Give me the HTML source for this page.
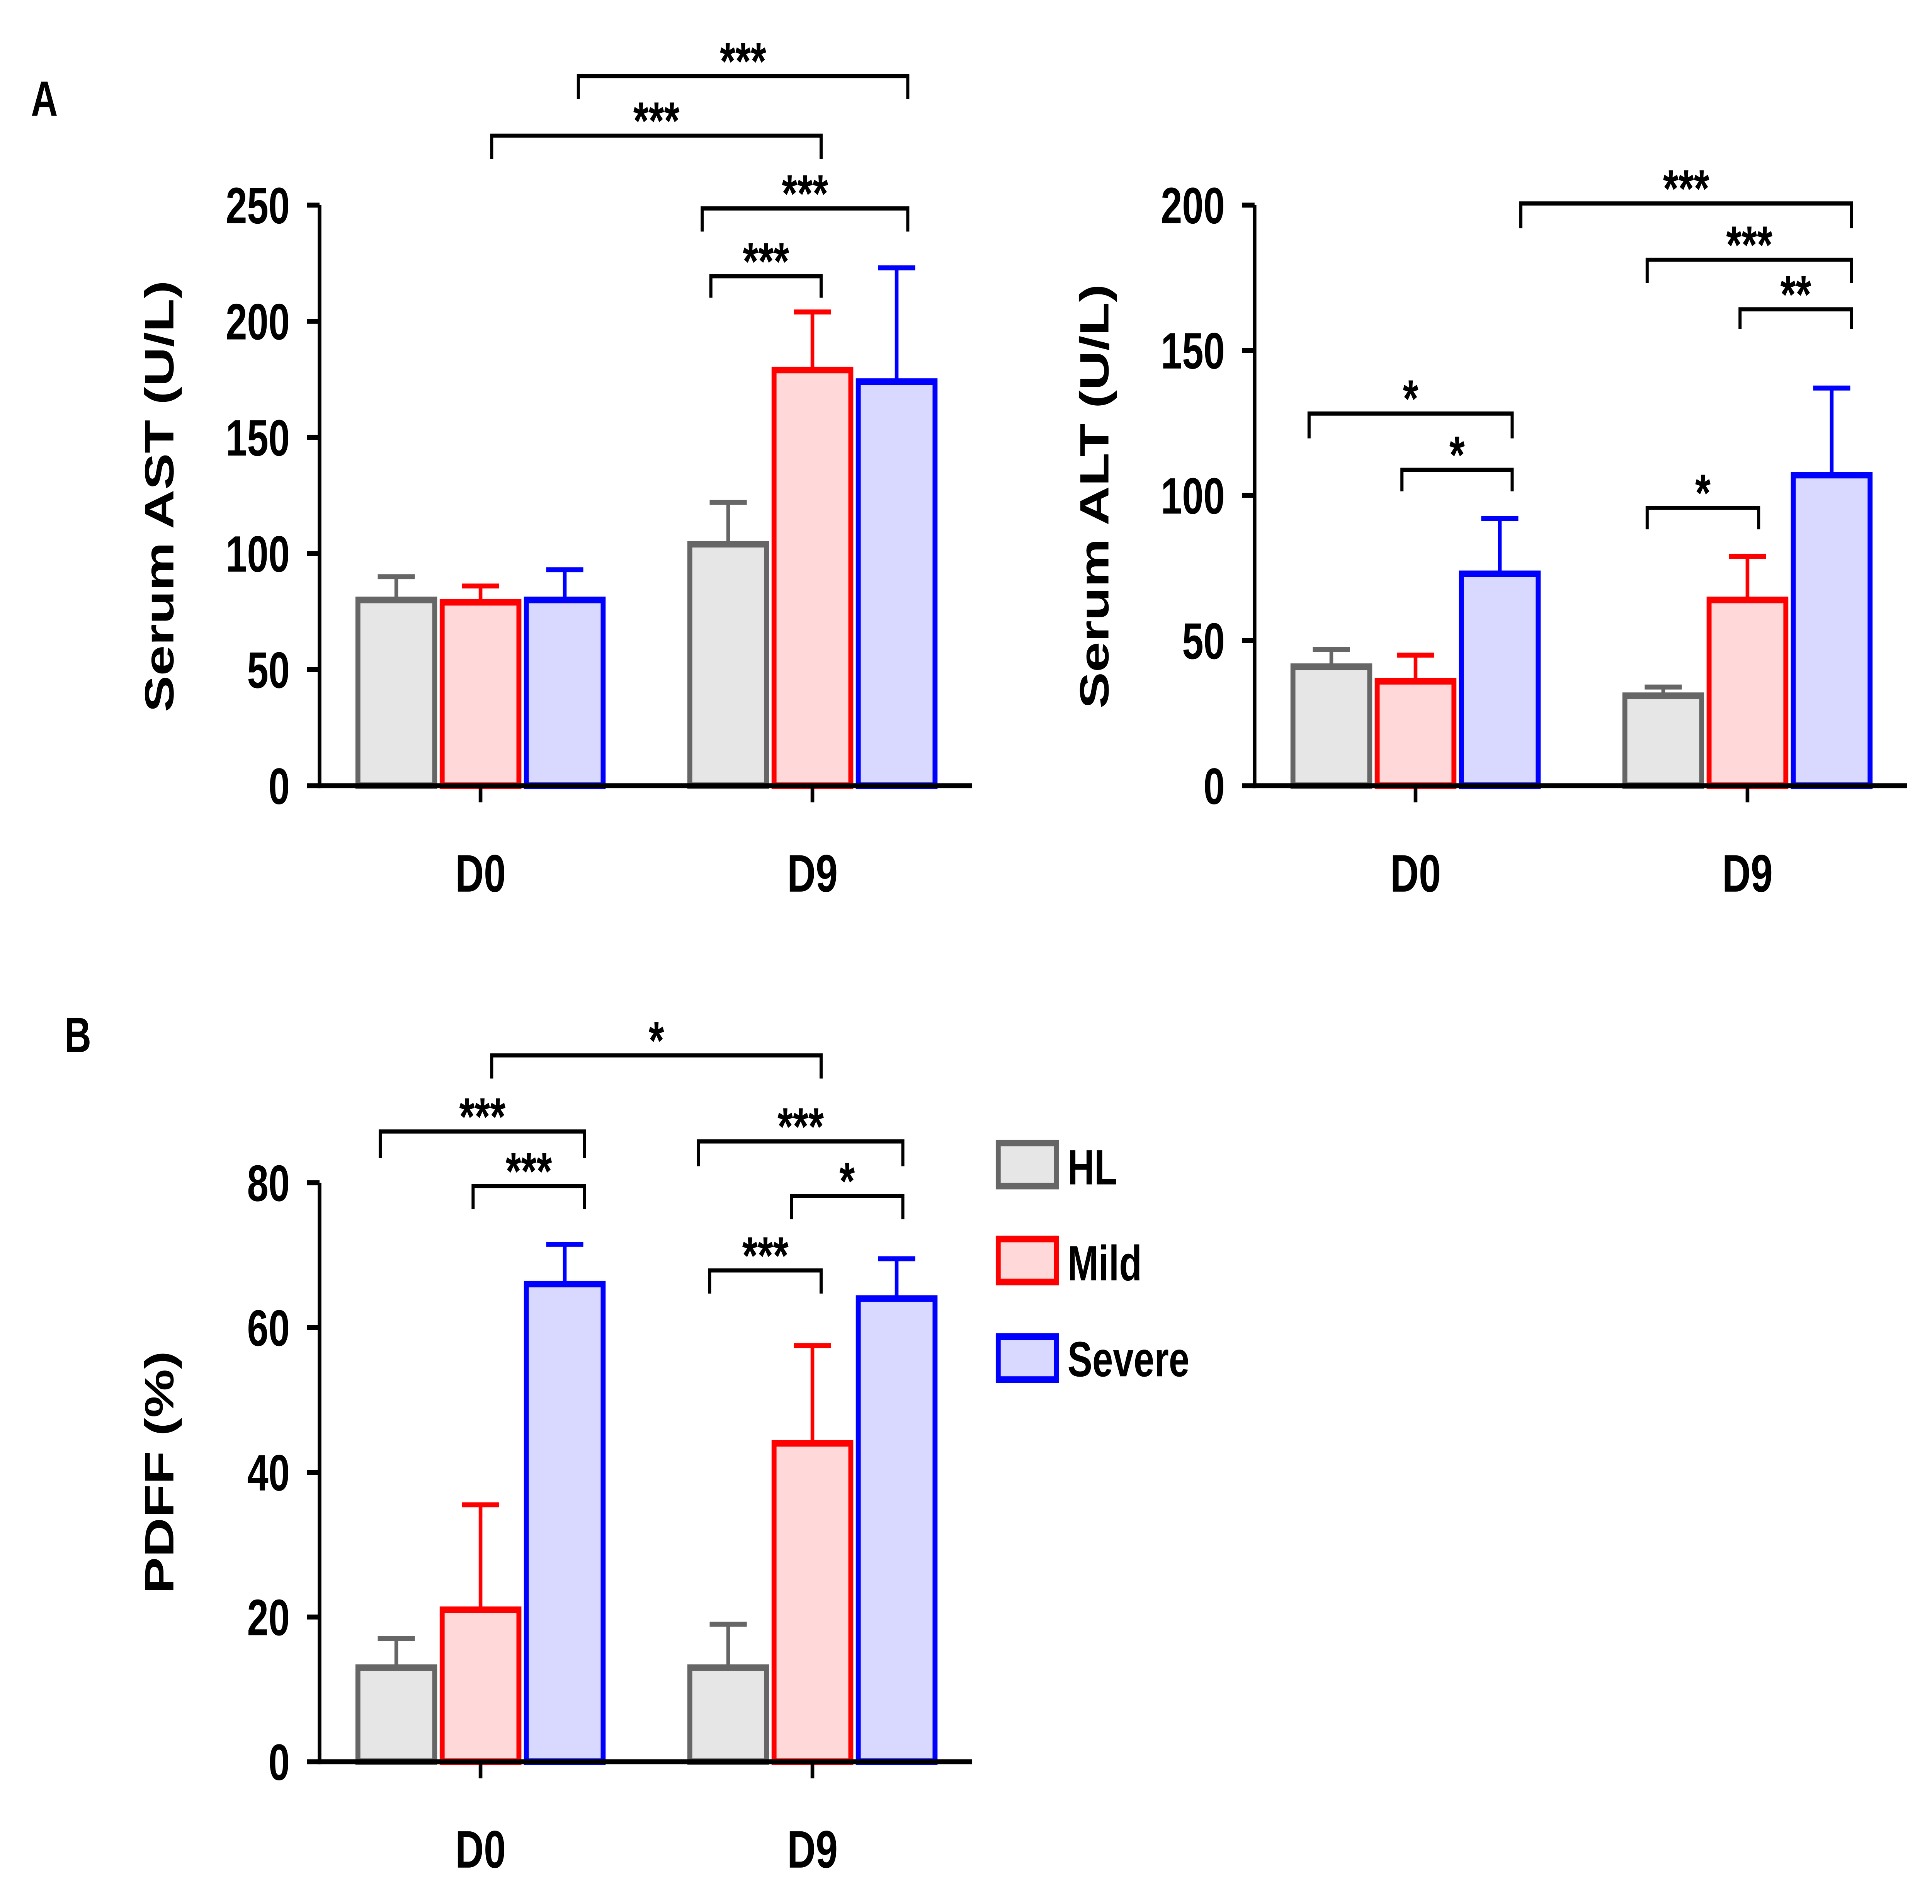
<!DOCTYPE html>
<html><head><meta charset="utf-8"><style>
html,body{margin:0;padding:0;background:#fff;width:100%;height:100%;overflow:hidden}
svg{display:block;position:absolute;left:0;top:0;width:100vw;height:100vh}
text{font-family:"Liberation Sans",Arial,sans-serif;font-weight:bold;fill:#000}
</style></head><body>
<svg viewBox="0 0 1560 1151" preserveAspectRatio="none" xmlns="http://www.w3.org/2000/svg">
<g id="c">
<text x="25" y="70" font-size="30">A</text>
<text x="52" y="636" font-size="30">B</text>
<g>
<rect x="806" y="691" width="47" height="26" fill="#e6e6e6" stroke="#666" stroke-width="4"/>
<text x="862" y="716" font-size="30">HL</text>
<rect x="806" y="749" width="47" height="26" fill="#ffd9d9" stroke="#f00" stroke-width="4"/>
<text x="862" y="774" font-size="30">Mild</text>
<rect x="806" y="808" width="47" height="26" fill="#d9d9ff" stroke="#00f" stroke-width="4"/>
<text x="862" y="832" font-size="30">Severe</text>
</g>
</g>
</svg>
<script>
const categories = ["D0","D9"];
const groups = ["HL","Mild","Severe"];
const astMeans = [[80,79,80],[104,179,174]];
const astErr = [[90,86,93],[122,204,223]];
const altMeans = [[41,36,73],[31,64,107]];
const altErr = [[47,45,92],[34,79,137]];
const pdffMeans = [[13,21,66],[13,44,64]];
const pdffErr = [[17,35.5,71.5],[19,57.5,69.5]];
const astTicks = [0,50,100,150,200,250];
const altTicks = [0,50,100,150,200];
const pdffTicks = [0,20,40,60,80];

const svg = document.getElementById('c');
const NS = 'http://www.w3.org/2000/svg';
const fills = ['#e6e6e6','#ffd9d9','#d9d9ff'];
const strokes = ['#666','#f00','#00f'];
function mk(tag, attrs, parent){
  const e = document.createElementNS(NS, tag);
  for (const k in attrs) e.setAttribute(k, attrs[k]);
  (parent||svg).appendChild(e);
  return e;
}
function panel(cfg){
  const g = mk('g', {});
  
  
  const y = v => cfg.y0 - v / cfg.max * (cfg.y0 - cfg.yTop);
  const centers = [cfg.x0 + 130, cfg.x0 + 398];
  cfg.means.forEach((row, ci) => {
    row.forEach((v, gi) => {
      const cx = centers[ci] + (gi - 1) * 68;
      const bx = cx - 31;
      const el = mk('line', {x1:cx, x2:cx, y1:y(v), y2:y(cfg.err[ci][gi]), stroke:strokes[gi], 'stroke-width':3}, g);
      
      
      const cap = mk('line', {x1:cx-15, x2:cx+15, y1:y(cfg.err[ci][gi]), y2:y(cfg.err[ci][gi]), stroke:strokes[gi], 'stroke-width':3}, g);
      
      
      const r = mk('rect', {x:bx, y:y(v), width:62, height:cfg.y0 - y(v), fill:fills[gi], stroke:strokes[gi], 'stroke-width':4}, g);
      
      
    });
  });
  const ya = mk('line', {x1:cfg.x0, x2:cfg.x0, y1:cfg.yTop, y2:cfg.y0+1.5, stroke:'#000', 'stroke-width':3}, g);
  
  
  const xa = mk('line', {x1:cfg.x0-1.5, x2:cfg.x0+527, y1:cfg.y0, y2:cfg.y0, stroke:'#000', 'stroke-width':3}, g);
  
  
  cfg.ticks.forEach(t => {
    const tl = mk('line', {x1:cfg.x0-10, x2:cfg.x0, y1:y(t), y2:y(t), stroke:'#000', 'stroke-width':3}, g);
    
    
    const tx = mk('text', {x:cfg.x0-24, y:y(t)+11, 'font-size':31, 'text-anchor':'end'}, g);
    tx.textContent = t;
    
    
  });
  categories.forEach((c, ci) => {
    const tl = mk('line', {x1:centers[ci], x2:centers[ci], y1:cfg.y0, y2:cfg.y0+10, stroke:'#000', 'stroke-width':3}, g);
    
    
    const tx = mk('text', {x:centers[ci], y:cfg.y0+64, 'font-size':32, 'text-anchor':'middle'}, g);
    tx.textContent = c;
    
    
  });
  const tt = mk('text', {x:0, y:0, 'font-size':33, 'text-anchor':'middle', transform:'translate('+(cfg.x0-118)+','+cfg.titleY+') rotate(-90)'}, g);
  tt.textContent = cfg.title;
  
  
  cfg.brackets.forEach(b => {
    const p = mk('path', {d:'M'+b[0]+' '+b[3]+' V'+b[2]+' H'+b[1]+' V'+b[3], fill:'none', stroke:'#000', 'stroke-width':2.5}, g);
    
    
    const s = mk('text', {x:(b[0]+b[1])/2, y:b[2]+2, 'font-size':32, 'text-anchor':'middle'}, g);
    s.textContent = b[4];
    
    
  });
}
panel({name:'ast-chart', x0:258, y0:475, yTop:124, max:250, means:astMeans, err:astErr, ticks:astTicks, title:'Serum AST (U/L)', titleY:300,
  brackets:[[467,733,46,60,'***'],[397,663,82,96,'***'],[567,733,126,140,'***'],[574,663,167,180,'***']]});
panel({name:'alt-chart', x0:1013, y0:475, yTop:124, max:200, means:altMeans, err:altErr, ticks:altTicks, title:'Serum ALT (U/L)', titleY:300,
  brackets:[[1228,1495,123,138,'***'],[1330,1495,157,171,'***'],[1405,1495,187,199,'**'],[1057,1221,250,265,'*'],[1132,1221,284,297,'*'],[1330,1420,307,320,'*']]});
panel({name:'pdff-chart', x0:258, y0:1065, yTop:715, max:80, means:pdffMeans, err:pdffErr, ticks:pdffTicks, title:'PDFF (%)', titleY:890,
  brackets:[[397,663,638,652,'*'],[307,472,684,700,'***'],[382,472,717,731,'***'],[564,729,690,705,'***'],[639,729,723,737,'*'],[573,663,768,782,'***']]});
</script>
</body></html>
